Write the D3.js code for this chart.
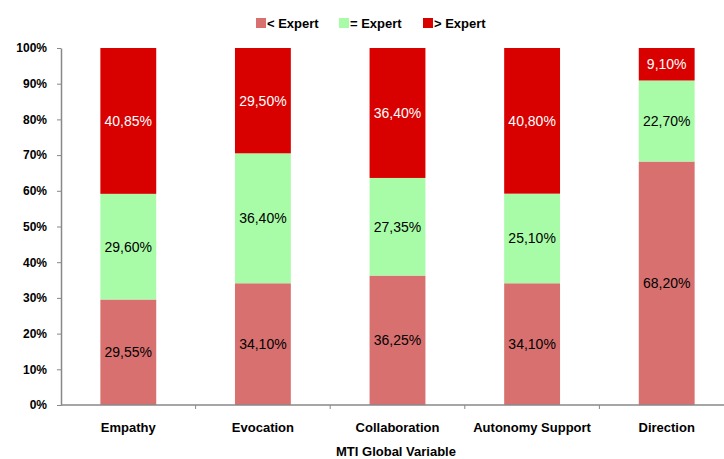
<!DOCTYPE html>
<html><head><meta charset="utf-8">
<script src="https://cdn.jsdelivr.net/npm/d3@7"></script>
<style>body{margin:0;background:#fff}svg{display:block}text{font-family:"Liberation Sans",Arial,sans-serif}</style>
</head><body><svg id="c" width="724" height="459"></svg>
<script>
const categories = ["Empathy","Evocation","Collaboration","Autonomy Support","Direction"];
const seriesNames = ["< Expert","= Expert","> Expert"];
const lessExpert  = [29.55, 34.10, 36.25, 34.10, 68.20];
const equalExpert = [29.60, 36.40, 27.35, 25.10, 22.70];
const moreExpert  = [40.85, 29.50, 36.40, 40.80, 9.10];
const yTicks = [0,10,20,30,40,50,60,70,80,90,100];
const colors = ["#D87070","#A8FCA8","#D90000"];
const labelColors = ["#000","#000","#fff"];

const svg = d3.select("#c");
const x = d3.scaleBand().domain(categories).range([61, 734]).paddingInner(0.585).paddingOuter(0.2925);
const y = d3.scaleLinear().domain([0,100]).range([405, 48]);

const rows = categories.map((c,i)=>({cat:c, "< Expert":lessExpert[i], "= Expert":equalExpert[i], "> Expert":moreExpert[i]}));
const stack = d3.stack().keys(seriesNames)(rows);

const g = svg.append("g");
stack.forEach((layer, k) => {
  g.selectAll(null).data(layer).enter().append("rect")
    .attr("x", d => x(d.data.cat))
    .attr("width", x.bandwidth())
    .attr("y", d => y(d[1]))
    .attr("height", d => y(d[0]) - y(d[1]))
    .attr("fill", colors[k]);
  g.selectAll(null).data(layer).enter().append("text")
    .attr("x", d => x(d.data.cat) + x.bandwidth()/2)
    .attr("y", d => (y(d[0]) + y(d[1]))/2)
    .attr("dy", "0.35em")
    .attr("text-anchor","middle")
    .attr("font-size", 14)
    .attr("fill", labelColors[k])
    .text(d => (d[1]-d[0]).toFixed(2).replace(".", ",") + "%");
});

// Y axis
const ya = svg.append("g").attr("transform","translate(61,0)")
  .call(d3.axisLeft(y).tickValues(yTicks).tickFormat(d => d + "%").tickSize(4).tickSizeOuter(0));
ya.select(".domain").attr("stroke","#888").attr("stroke-width",1.5);
ya.selectAll(".tick line").attr("stroke","#888");
ya.selectAll(".tick text").attr("font-size",12).attr("font-weight","bold").attr("fill","#000").attr("x",-14).attr("font-family","Liberation Sans, Arial, sans-serif");

// X axis
const xa = svg.append("g").attr("transform","translate(0,405)");
xa.append("line").attr("x1",61).attr("x2",734).attr("stroke","#888").attr("stroke-width",1.5);
const bounds = categories.map((c,i)=> 61 + i*(673/5)).concat([734]);
xa.selectAll(null).data(bounds.slice(1)).enter().append("line")
  .attr("x1",d=>d).attr("x2",d=>d).attr("y1",0).attr("y2",4).attr("stroke","#888");
xa.selectAll(null).data(categories).enter().append("text")
  .attr("x", d => x(d) + x.bandwidth()/2).attr("y", 27)
  .attr("text-anchor","middle").attr("font-size",13).attr("font-weight","bold").text(d=>d);
svg.append("text").attr("x",396).attr("y",456).attr("text-anchor","middle")
  .attr("font-size",13).attr("font-weight","bold").text("MTI Global Variable");

// Legend
const legX = [256, 339, 423];
const leg = svg.append("g");
seriesNames.forEach((s,i)=>{
  leg.append("rect").attr("x",legX[i]).attr("y",18).attr("width",10).attr("height",10).attr("fill",colors[i]);
  leg.append("text").attr("x",legX[i]+11).attr("y",28).attr("font-size",13).attr("font-weight","bold").text(s);
});
</script></body></html>
